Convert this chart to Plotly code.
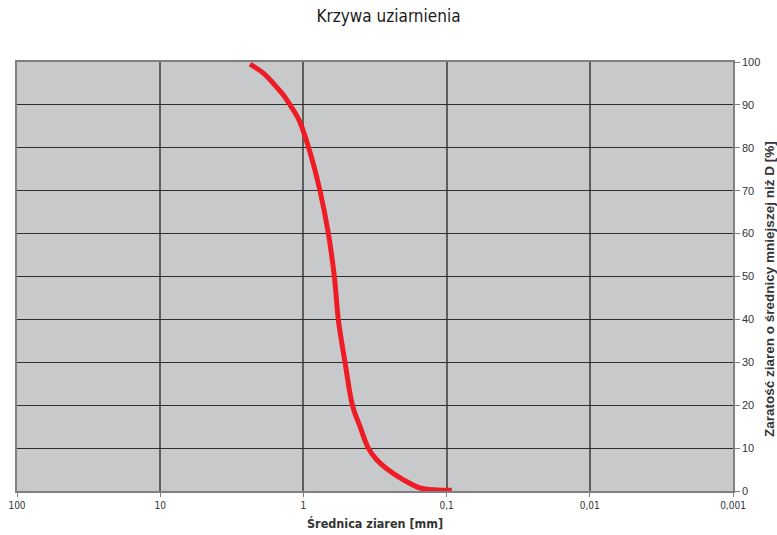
import plotly.graph_objects as go

diam_mm = [2.36, 1.905, 1.62, 1.38, 1.24, 1.074, 0.924, 0.766, 0.670, 0.608, 0.570, 0.512,
           0.453, 0.402, 0.352, 0.310, 0.262, 0.200, 0.153, 0.117, 0.092]
passing_pct = [99.5, 97.4, 95.0, 92.3, 90.0, 86.5, 80.3, 70.0, 60.1, 50.0, 39.9, 30.0,
               19.8, 15.0, 10.0, 7.4, 5.2, 2.6, 0.7, 0.25, 0.2]

x_tickvals = [100, 10, 1, 0.1, 0.01, 0.001]
x_ticktext = ["100", "10", "1", "0,1", "0,01", "0,001"]
y_tickvals = [0, 10, 20, 30, 40, 50, 60, 70, 80, 90, 100]

narrow = "DejaVu Sans Condensed, Liberation Sans Narrow, Arial Narrow, Liberation Sans, sans-serif"
sans = "Liberation Sans, Arial, sans-serif"

fig = go.Figure()
fig.add_trace(go.Scatter(
    x=diam_mm, y=passing_pct, mode="lines",
    line=dict(color="#EE1C25", width=5, shape="spline", smoothing=1.0),
    showlegend=False, hoverinfo="skip",
))

fig.update_layout(
    width=777, height=535,
    margin=dict(l=17, r=44, t=62, b=44, autoexpand=False),
    paper_bgcolor="white",
    plot_bgcolor="#C8C9CB",
    title=dict(text="Krzywa uziarnienia", x=0.5, xanchor="center", y=0.970, yanchor="middle",
               font=dict(family=narrow, size=17, color="#1a1a1a")),
    xaxis=dict(
        type="log", range=[2, -3], tickvals=x_tickvals, ticktext=x_ticktext,
        showgrid=True, gridcolor="#5E5E5E", gridwidth=1.5,
        showline=True, linecolor="#808080", linewidth=1.5, mirror=True,
        ticks="outside", ticklen=4, tickcolor="#808080",
        tickfont=dict(family=narrow, size=10, color="#333"),
        automargin=False, zeroline=False,
    ),
    yaxis=dict(
        range=[0, 100], tickvals=y_tickvals, side="right",
        showgrid=True, gridcolor="#2E2E2E", gridwidth=1,
        showline=True, linecolor="#808080", linewidth=1.5, mirror=True,
        ticks="outside", ticklen=5, tickcolor="#808080",
        tickfont=dict(family=sans, size=11, color="#333"),
        automargin=False, zeroline=False,
    ),
    annotations=[
        dict(text="<b>Średnica ziaren [mm]</b>", xref="paper", yref="paper",
             x=0.5, y=-0.0746, xanchor="center", yanchor="middle", showarrow=False,
             font=dict(family=narrow, size=12.5, color="#333")),
        dict(text="<b>Zaratość ziaren o średnicy mniejszej niż D [%]</b>", xref="paper", yref="paper",
             x=1.0517, y=0.471, xanchor="center", yanchor="middle", textangle=-90, showarrow=False,
             font=dict(family=sans, size=13.5, color="#333")),
    ],
)

fig.write_html("out.html", config={"displayModeBar": False},
               post_script="document.body.style.margin='0';document.body.style.padding='0';")
